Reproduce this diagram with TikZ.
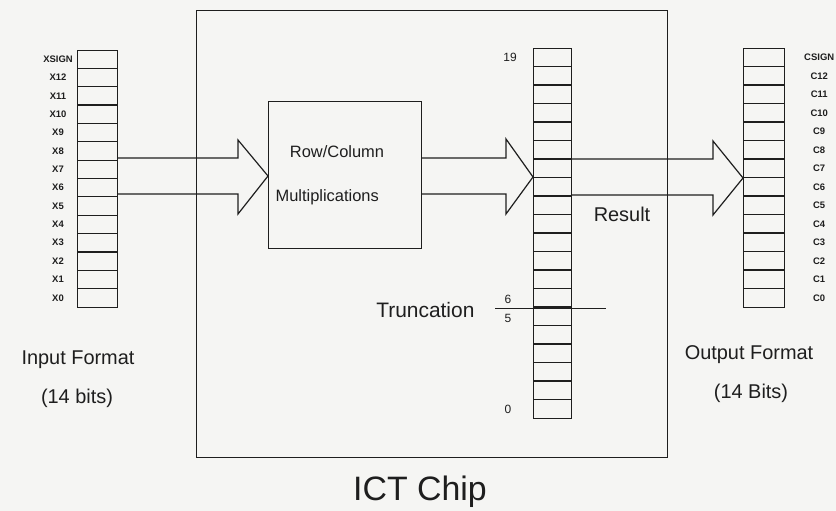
\documentclass[tikz,border=0pt]{standalone}
\usepackage{fontspec}
\setmainfont{Liberation Sans}
\usetikzlibrary{calc}
\definecolor{bgc}{RGB}{245,245,243}
\definecolor{ink}{RGB}{30,30,30}
\begin{document}
\begin{tikzpicture}[x=1bp,y=-1bp,line width=1.2bp,draw=ink,text=ink,
  box/.style={draw,inner sep=0pt,anchor=north west},
  bitlbl/.style={inner sep=0pt,font=\fontsize{9.5}{10}\selectfont\bfseries},
  numlbl/.style={inner sep=0pt,font=\fontsize{12}{13}\selectfont},
  biglbl/.style={inner sep=0pt,font=\fontsize{20}{24}\selectfont},
  midlbl/.style={inner sep=0pt,font=\fontsize{16.5}{19}\selectfont}]
\fill[bgc] (0,0) rectangle (836,511);
\useasboundingbox (0,0) rectangle (836,511);

% chip
\node[box,minimum width=471bp,minimum height=447bp] (chip) at (196,10) {};
\node[inner sep=0pt,font=\fontsize{34}{38}\selectfont] (chipname) at (420,492) {ICT Chip};

% input register
\node[box,minimum width=40bp,minimum height=257bp] (inreg) at (77,50) {};
\foreach \i in {1,...,13}
  \draw ($(inreg.north west)+(0,{\i*257/14})$) -- ++(40,0);
\foreach \t [count=\i from 0] in {XSIGN,X12,X11,X10,X9,X8,X7,X6,X5,X4,X3,X2,X1,X0}
  \node[bitlbl] (xl\i) at ($(inreg.north west)+(-19,{(\i+0.5)*257/14})$) {\t};

% output register
\node[box,minimum width=41bp,minimum height=259bp] (outreg) at (743,48) {};
\foreach \i in {1,...,13}
  \draw ($(outreg.north west)+(0,{\i*259/14})$) -- ++(41,0);
\foreach \t [count=\i from 0] in {CSIGN,C12,C11,C10,C9,C8,C7,C6,C5,C4,C3,C2,C1,C0}
  \node[bitlbl] (cl\i) at ($(outreg.north east)+(34,{(\i+0.5)*259/14})$) {\t};

% result register
\node[box,minimum width=38bp,minimum height=370bp] (resreg) at (533,48) {};
\foreach \i in {1,...,19}
  \draw ($(resreg.north west)+(0,{\i*18.5})$) -- ++(38,0);
\node[numlbl] (n19) at ($(resreg.north west)+(-23,9.5)$) {19};
\node[numlbl] (n6) at ($(resreg.south west)+(-25,-120)$) {6};
\node[numlbl] (n5) at ($(resreg.south west)+(-25,-101)$) {5};
\node[numlbl] (n0) at ($(resreg.south west)+(-25,-9.5)$) {0};
\coordinate (trA) at ($(resreg.south west)+(-38,-111)$);
\coordinate (trB) at ($(resreg.south east)+(34,-111)$);
\draw (trA) -- (trB);
\node[biglbl,anchor=east,font=\fontsize{21}{24}\selectfont] (trunc) at ($(trA)+(-20,2)$) {Truncation};
\node[biglbl] (result) at (622,214) {Result};

% multiplication box
\node[box,minimum width=153bp,minimum height=147bp] (mult) at (268,101) {};
\node[midlbl] (rc) at (337,152) {Row/Column};
\node[midlbl,anchor=west] (mu) at (275,197) {Multiplications};

% block arrows
\draw (inreg.east |- 0,158) -- (238,158) -- (238,140) -- (mult.west |- 0,176)
  -- (238,214) -- (238,194) -- (inreg.east |- 0,194);
\draw (mult.east |- 0,158) -- (506,158) -- (506,139) -- (resreg.west |- 0,177)
  -- (506,214) -- (506,194) -- (mult.east |- 0,194);
\draw (resreg.east |- 0,159) -- (713,159) -- (713,141) -- (outreg.west |- 0,178)
  -- (713,215) -- (713,195) -- (resreg.east |- 0,195);

% captions
\node[biglbl] (inf) at (78,360) {Input Format};
\node[biglbl] (inb) at (77,398) {(14 bits)};
\node[biglbl] (outf) at (749,355) {Output Format};
\node[biglbl] (outb) at (751,393) {(14 Bits)};
\end{tikzpicture}
\end{document}
